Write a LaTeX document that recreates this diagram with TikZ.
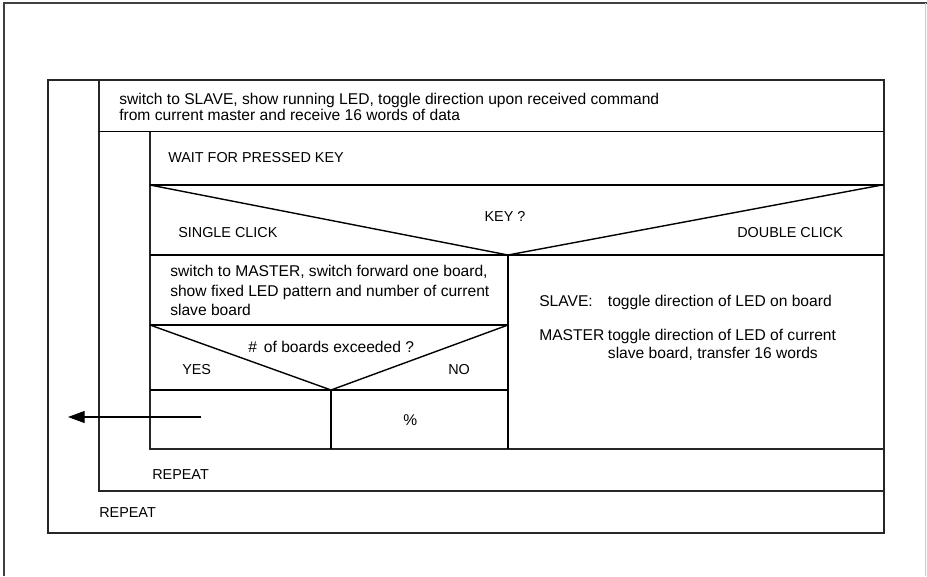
\documentclass[tikz,border=0pt]{standalone}
\usepackage{fontspec}
\setmainfont{Liberation Sans}
\usetikzlibrary{arrows.meta}
\begin{document}
\begin{tikzpicture}[x=0.75pt,y=-0.75pt,
  pageedge/.style={line width=0.9pt, draw=black!75},
  pageedgelight/.style={line width=0.6pt, draw=black!20},
  frameline/.style={line width=0.8pt, draw=black!85},
  boxline/.style={line width=1.05pt, draw=black},
  arrowline/.style={line width=0.8pt, draw=black, -{Triangle[length=12.5pt,width=9pt]}},
  txt/.style={anchor=base west, inner sep=0pt, font=\fontsize{11.7}{14}\selectfont},
  captxt/.style={anchor=base west, inner sep=0pt, font=\fontsize{10.8}{13}\selectfont}]
\useasboundingbox (0,0) rectangle (927,576);
% page edges
\draw[pageedge] (4,576) -- (4,3) -- (927,3);
\draw[pageedgelight] (925,3) -- (925,576);
% outer repeat loop
\draw[frameline] (48,80) rectangle (884,533);
\draw[frameline] (99,80) -- (99,491) -- (884,491);
\draw[boxline] (99,131.5) -- (884,131.5);
% inner repeat loop
\draw[frameline] (150,131.5) -- (150,449) -- (884,449);
\draw[boxline] (150,185) -- (884,185);
\draw[boxline] (150,255) -- (884,255);
\draw[boxline] (150,185) -- (508,255) -- (882,185);
\draw[boxline] (508,255) -- (508,449);
\draw[boxline] (150,325) -- (508,325);
\draw[boxline] (150,325) -- (331,390) -- (508,325);
\draw[boxline] (150,390) -- (508,390);
\draw[boxline] (331,390) -- (331,449);
% exit arrow
\coordinate (arrowStart) at (201,417);
\coordinate (arrowEnd) at (68,417);
\draw[arrowline] (arrowStart) -- (arrowEnd);
% texts
\node[txt] (top1) at (119,104.5) {switch to SLAVE, show running LED, toggle direction upon received command};
\node[txt] (top2) at (119,120) {from current master and receive 16 words of data};
\node[captxt] (wait) at (168,162.7) {WAIT FOR PRESSED KEY};
\node[captxt] (key) at (484.3,221.7) {KEY ?};
\node[captxt] (single) at (178,237.7) {SINGLE CLICK};
\node[captxt] (double) at (737,237.3) {DOUBLE CLICK};
\node[txt] (m1) at (170,276) {switch to MASTER, switch forward one board,};
\node[txt] (m2) at (170,296.7) {show fixed LED pattern and number of current};
\node[txt] (m3) at (170,315) {slave board};
\node[txt] (boards) at (248,352.3) {\#\hspace{0.45em}of boards exceeded ?};
\node[captxt] (yes) at (182,374.3) {YES};
\node[captxt] (no) at (448,374.3) {NO};
\node[txt] (pct) at (403,425) {\%};
\node[txt] (slaveLbl) at (539,306) {SLAVE:};
\node[txt] (slaveTxt) at (607.7,306) {toggle direction of LED on board};
\node[txt] (masterLbl) at (539,340.7) {MASTER};
\node[txt] (masterTxt1) at (607.7,340.7) {toggle direction of LED of current};
\node[txt] (masterTxt2) at (607.7,358.3) {slave board, transfer 16 words};
\node[captxt] (rep1) at (152,479.3) {REPEAT};
\node[captxt] (rep2) at (99,517.3) {REPEAT};
\end{tikzpicture}
\end{document}
